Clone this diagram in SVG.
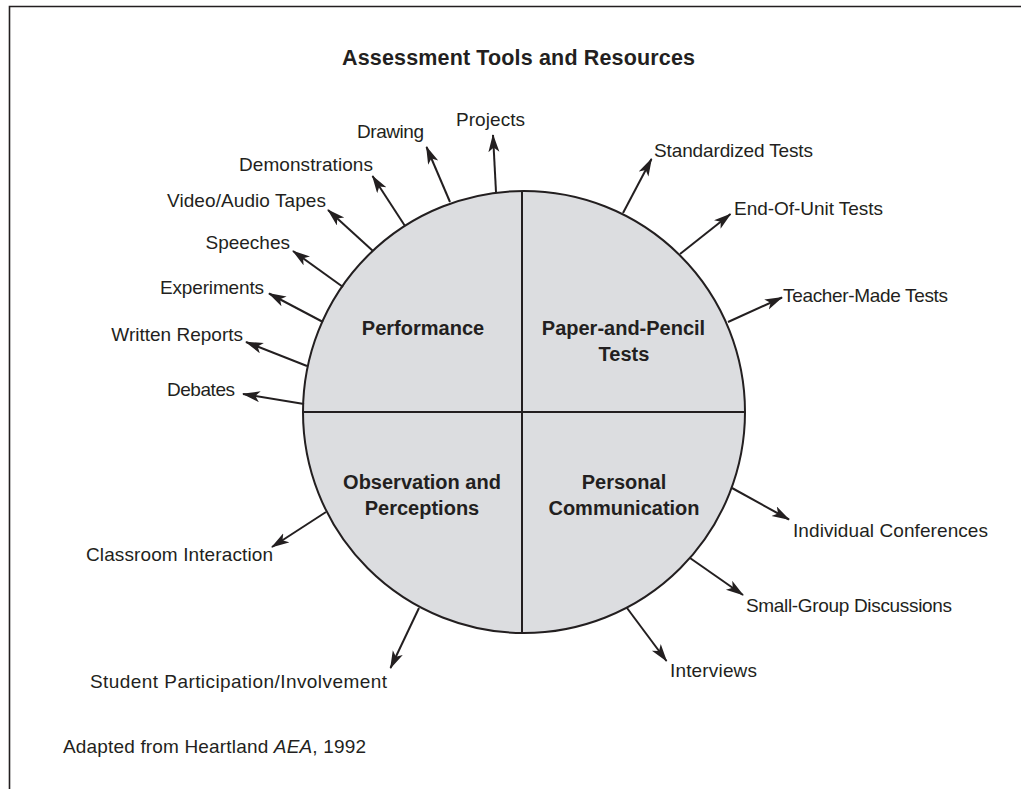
<svg xmlns="http://www.w3.org/2000/svg" width="1021" height="789" viewBox="0 0 1021 789">
<defs>
<marker id="ah" markerUnits="userSpaceOnUse" markerWidth="20" markerHeight="12" refX="17" refY="5.5" orient="auto">
<path d="M0,0 L18,5.5 L0,11 L4.5,5.5 Z" fill="#231f20"/>
</marker>
</defs>
<style>
text{font-family:"Liberation Sans",Arial,sans-serif;fill:#231f20}
.lbl{font-size:19px}
.q{font-size:20px;font-weight:bold;text-anchor:middle}
.title{font-size:21.5px;font-weight:bold;text-anchor:middle}
.arr{stroke:#231f20;stroke-width:2;fill:none;marker-end:url(#ah)}
</style>
<rect width="1021" height="789" fill="#fff"/>
<path d="M9.5,789 V6.5 H1021" fill="none" stroke="#231f20" stroke-width="1.6"/>
<text class="title" x="518.5" y="65" textLength="353">Assessment Tools and Resources</text>

<g id="circle">
<circle cx="524" cy="412" r="221" fill="#dcdde0" stroke="#231f20" stroke-width="2"/>
<line x1="522" y1="191" x2="522" y2="633" stroke="#231f20" stroke-width="2"/>
<line x1="303" y1="412" x2="745" y2="412" stroke="#231f20" stroke-width="2"/>
</g>
<g id="q-performance"><text class="q" x="423" y="335">Performance</text></g>
<g id="q-paper"><text class="q" x="623.5" y="335">Paper-and-Pencil</text><text class="q" x="624" y="361">Tests</text></g>
<g id="q-observation"><text class="q" x="422" y="489">Observation and</text><text class="q" x="422" y="515">Perceptions</text></g>
<g id="q-personal"><text class="q" x="624" y="489">Personal</text><text class="q" x="624" y="515">Communication</text></g>

<g id="connectors">
<line class="arr" x1="496" y1="192" x2="493" y2="135"/>
<line class="arr" x1="450" y1="202" x2="426.5" y2="147"/>
<line class="arr" x1="405" y1="226" x2="372.5" y2="176"/>
<line class="arr" x1="373" y1="251" x2="328" y2="210"/>
<line class="arr" x1="343" y1="287" x2="293" y2="251"/>
<line class="arr" x1="323" y1="322" x2="269" y2="293.5"/>
<line class="arr" x1="307" y1="366" x2="246" y2="342"/>
<line class="arr" x1="304" y1="404" x2="243" y2="394"/>
<line class="arr" x1="623" y1="213" x2="651.5" y2="159"/>
<line class="arr" x1="680" y1="254" x2="730.5" y2="214"/>
<line class="arr" x1="728" y1="322" x2="782" y2="297.5"/>
<line class="arr" x1="732" y1="488" x2="789" y2="519.5"/>
<line class="arr" x1="690" y1="558" x2="743" y2="595"/>
<line class="arr" x1="627" y1="608" x2="666.5" y2="661"/>
<line class="arr" x1="419" y1="608" x2="390.5" y2="668"/>
<line class="arr" x1="326" y1="512" x2="272" y2="547"/>
</g>

<g id="n-projects"><text class="lbl" x="456" y="126" textLength="69">Projects</text></g>
<g id="n-drawing"><text class="lbl" x="357" y="138" textLength="67">Drawing</text></g>
<g id="n-demonstrations"><text class="lbl" x="239" y="170.5" textLength="134">Demonstrations</text></g>
<g id="n-video"><text class="lbl" x="167" y="206.5" textLength="159">Video/Audio Tapes</text></g>
<g id="n-speeches"><text class="lbl" x="290" y="249" text-anchor="end">Speeches</text></g>
<g id="n-experiments"><text class="lbl" x="160" y="294" textLength="104">Experiments</text></g>
<g id="n-written"><text class="lbl" x="243" y="340.5" text-anchor="end">Written Reports</text></g>
<g id="n-debates"><text class="lbl" x="167" y="396" textLength="68">Debates</text></g>
<g id="n-standardized"><text class="lbl" x="654" y="156.5" textLength="159">Standardized Tests</text></g>
<g id="n-endofunit"><text class="lbl" x="734" y="215" textLength="149">End-Of-Unit Tests</text></g>
<g id="n-teacher"><text class="lbl" x="783" y="301.5" textLength="165">Teacher-Made Tests</text></g>
<g id="n-individual"><text class="lbl" x="793" y="536.5" textLength="195">Individual Conferences</text></g>
<g id="n-smallgroup"><text class="lbl" x="746" y="611.5" textLength="206">Small-Group Discussions</text></g>
<g id="n-interviews"><text class="lbl" x="670" y="676.5" textLength="87">Interviews</text></g>
<g id="n-classroom"><text class="lbl" x="86" y="561" textLength="187">Classroom Interaction</text></g>
<g id="n-student"><text class="lbl" x="90" y="688" textLength="297">Student Participation/Involvement</text></g>
<g id="caption"><text class="lbl" x="63" y="753" textLength="303">Adapted from Heartland <tspan font-style="italic">AEA</tspan>, 1992</text></g>
</svg>
